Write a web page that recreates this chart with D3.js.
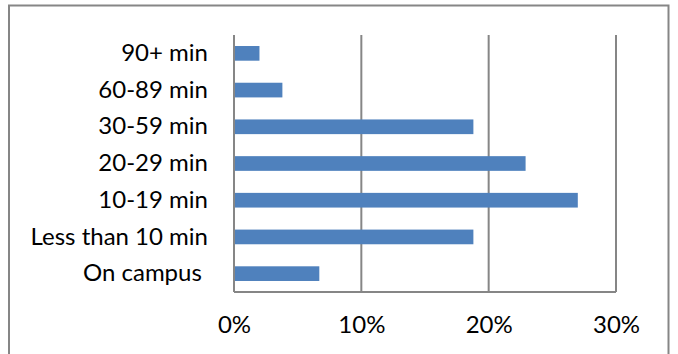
<!DOCTYPE html>
<html>
<head>
<meta charset="utf-8">
<script src="https://cdn.jsdelivr.net/npm/d3@7"></script>
<style>
  html, body { margin: 0; padding: 0; background: #fff; }
  svg { display: block; }
  text { font-family: Lato, "Open Sans", sans-serif; fill: #000; }
</style>
</head>
<body>
<svg id="chart" width="678" height="354"></svg>
<script>
// Commute time categories, listed from top to bottom
const categories = ["90+ min", "60-89 min", "30-59 min", "20-29 min", "10-19 min", "Less than 10 min", "On campus "];
// Share of respondents in each category (percent)
const shares = [2.0, 3.8, 18.8, 22.9, 27.0, 18.8, 6.7];
// Value axis ticks (percent)
const ticks = [0, 10, 20, 30];

const svg = d3.select("#chart");
const plot = { left: 234, right: 616, top: 35, bottom: 292 };
const gridColor = "#868686";
const fontSize = 24;

// Chart frame
svg.append("rect")
  .attr("x", 9).attr("y", 5.5)
  .attr("width", 659.5).attr("height", 360)
  .attr("fill", "#fff")
  .attr("stroke", gridColor).attr("stroke-width", 2);

const x = d3.scaleLinear().domain([0, 30]).range([plot.left, plot.right]);
const y = d3.scaleBand().domain(categories).range([plot.top, plot.bottom]).paddingInner(0.6).paddingOuter(0.3);

// Vertical gridlines
svg.append("g").selectAll("line").data(ticks.filter(t => t > 0)).join("line")
  .attr("x1", d => x(d)).attr("x2", d => x(d))
  .attr("y1", plot.top).attr("y2", plot.bottom)
  .attr("stroke", gridColor).attr("stroke-width", 2);

// Bars
svg.append("g").selectAll("rect").data(categories).join("rect")
  .attr("x", x(0))
  .attr("y", d => y(d))
  .attr("width", (d, i) => x(shares[i]) - x(0))
  .attr("height", y.bandwidth())
  .attr("fill", "#4F81BD");

// Category axis
const yAxis = svg.append("g")
  .attr("transform", `translate(${plot.left},0)`)
  .call(d3.axisLeft(y).tickSize(0).tickPadding(26));
yAxis.select(".domain").attr("stroke", gridColor).attr("stroke-width", 2)
  .attr("d", `M0,${plot.top}V${plot.bottom}`);
yAxis.selectAll("text")
  .attr("font-size", fontSize)
  .attr("font-family", "Lato, 'Open Sans', sans-serif")
  .style("white-space", "pre");

// Value axis
const xAxis = svg.append("g")
  .attr("transform", `translate(0,${plot.bottom})`)
  .call(d3.axisBottom(x).tickValues(ticks).tickSize(0).tickPadding(24).tickFormat(d => d + "%"));
xAxis.select(".domain").attr("stroke", gridColor).attr("stroke-width", 2)
  .attr("d", `M${plot.left},0H${plot.right}`);
xAxis.selectAll("text")
  .attr("font-size", fontSize)
  .attr("font-family", "Lato, 'Open Sans', sans-serif");
</script>
</body>
</html>
